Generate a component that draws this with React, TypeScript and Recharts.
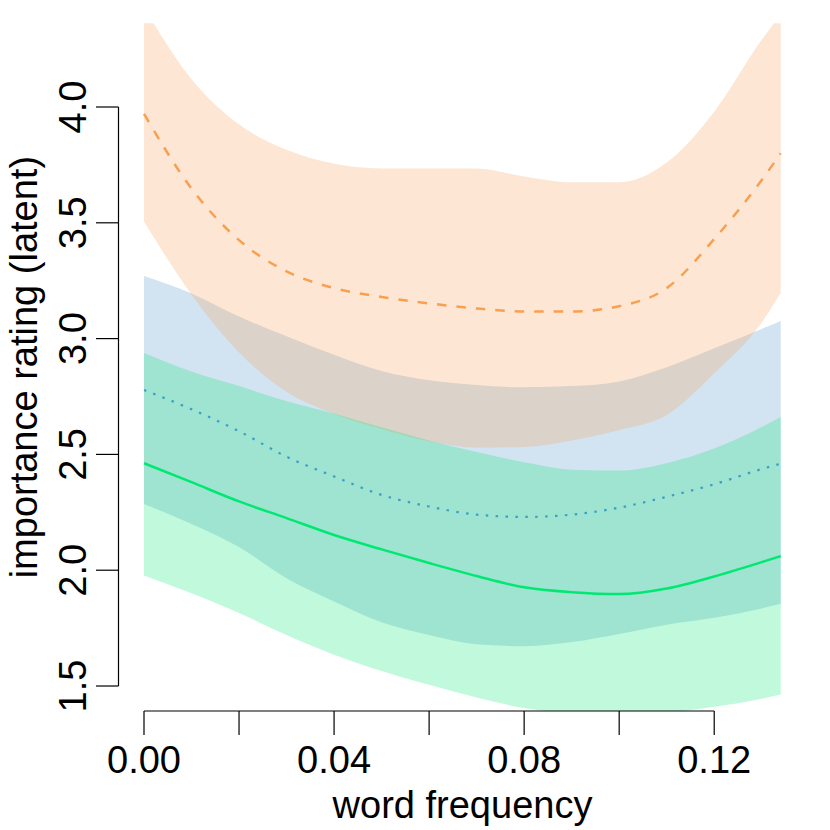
import React from 'react';
import { ComposedChart, Area, Line, XAxis, YAxis, ReferenceLine } from 'recharts';

// word frequency grid
const freq = [0, 0.01, 0.02, 0.03, 0.04, 0.05, 0.06, 0.07, 0.08, 0.09, 0.1, 0.11, 0.12, 0.13, 0.134];

// orange group (dashed)
const orangeMid = [3.97, 3.648, 3.425, 3.29, 3.218, 3.18, 3.152, 3.13, 3.117, 3.117, 3.14, 3.218, 3.43, 3.685, 3.8];
const orangeLo = [3.506, 3.19, 2.94, 2.77, 2.675, 2.61, 2.557, 2.53, 2.532, 2.56, 2.605, 2.67, 2.85, 3.07, 3.197];
const orangeHi = [4.43, 4.12, 3.925, 3.815, 3.755, 3.735, 3.735, 3.735, 3.7, 3.675, 3.675, 3.76, 3.98, 4.29, 4.4];

// blue group (dotted)
const blueMid = [2.778, 2.695, 2.6, 2.49, 2.405, 2.325, 2.275, 2.24, 2.23, 2.24, 2.27, 2.317, 2.371, 2.437, 2.46];
const blueLo = [2.286, 2.2, 2.1, 1.965, 1.865, 1.775, 1.72, 1.68, 1.672, 1.69, 1.725, 1.765, 1.795, 1.835, 1.855];
const blueHi = [3.27, 3.195, 3.095, 3.01, 2.93, 2.86, 2.82, 2.8, 2.79, 2.795, 2.815, 2.876, 2.958, 3.042, 3.076];

// green group (solid)
const greenMid = [2.462, 2.38, 2.297, 2.225, 2.152, 2.09, 2.031, 1.975, 1.926, 1.905, 1.897, 1.921, 1.973, 2.035, 2.061];
const greenLo = [1.977, 1.9, 1.815, 1.72, 1.635, 1.565, 1.505, 1.45, 1.405, 1.38, 1.37, 1.385, 1.41, 1.445, 1.463];
const greenHi = [2.938, 2.858, 2.795, 2.73, 2.677, 2.617, 2.56, 2.51, 2.466, 2.434, 2.43, 2.462, 2.525, 2.618, 2.661];

const xTicks = [0, 0.02, 0.04, 0.06, 0.08, 0.1, 0.12];
const xTickLabels = ['0.00', '', '0.04', '', '0.08', '', '0.12'];
const yTicks = [1.5, 2.0, 2.5, 3.0, 3.5, 4.0];
const yTickLabels = ['1.5', '2.0', '2.5', '3.0', '3.5', '4.0'];

const X_MIN = -0.005366;
const X_MAX = 0.13942;
const Y_MIN = 1.3921;
const Y_MAX = 4.3614;

const FONT = "'Liberation Sans', Arial, Helvetica, sans-serif";

const data = freq.map((x, i) => ({
  x,
  oMid: orangeMid[i], oLo: orangeLo[i], oHi: orangeHi[i],
  bMid: blueMid[i], bLo: blueLo[i], bHi: blueHi[i],
  gMid: greenMid[i], gLo: greenLo[i], gHi: greenHi[i],
}));

function YTick(props: any) {
  const { x, y, index } = props;
  return (
    <text x={x} y={y} transform={`rotate(-90, ${x}, ${y})`} textAnchor="middle"
      fontSize={38} fontFamily={FONT} fill="#000">
      {yTickLabels[index]}
    </text>
  );
}

function XTitle(props: any) {
  const vb = props.viewBox || { x: 118.5, width: 688 };
  return (
    <text x={vb.x + vb.width / 2} y={818} textAnchor="middle" fontSize={38} fontFamily={FONT} fill="#000">
      word frequency
    </text>
  );
}

function YTitle(props: any) {
  const vb = props.viewBox || { y: 23.3, height: 687.7 };
  const cy = vb.y + vb.height / 2;
  return (
    <text x={37.5} y={cy} transform={`rotate(-90, 37.5, ${cy})`} textAnchor="middle"
      fontSize={38} fontFamily={FONT} fill="#000">
      importance rating (latent)
    </text>
  );
}

export default function App() {
  return (
    <div style={{ position: 'absolute', left: 0, top: 0, width: 830, height: 830, background: '#fff' }}>
      <ComposedChart width={830} height={830} data={data}
        margin={{ top: 23.3, right: 23.5, left: 0, bottom: 0 }}>
        <XAxis dataKey="x" type="number" domain={[X_MIN, X_MAX]} allowDataOverflow
          ticks={xTicks} interval={0} height={119} axisLine={false}
          tickSize={24} tickMargin={11} tickLine={{ stroke: '#000', strokeWidth: 1.2 }}
          tick={{ fill: '#000', fontSize: 38, fontFamily: FONT }}
          tickFormatter={(v: number, i: number) => xTickLabels[i]}
          label={<XTitle />} />
        <YAxis type="number" domain={[Y_MIN, Y_MAX]} allowDataOverflow
          ticks={yTicks} interval={0} width={118.5} axisLine={false}
          tickSize={22.5} tickMargin={9.5} tickLine={{ stroke: '#000', strokeWidth: 1.2 }}
          tick={<YTick />} label={<YTitle />} />

        <Area dataKey={(d: any) => [d.bLo, d.bHi]} type="monotone" stroke="none"
          fill="#4B8FC7" fillOpacity={0.25} isAnimationActive={false} activeDot={false} />
        <Area dataKey={(d: any) => [d.oLo, d.oHi]} type="monotone" stroke="none"
          fill="#F79F53" fillOpacity={0.25} isAnimationActive={false} activeDot={false} />
        <Area dataKey={(d: any) => [d.gLo, d.gHi]} type="monotone" stroke="none"
          fill="#03E773" fillOpacity={0.25} isAnimationActive={false} activeDot={false} />

        <Line dataKey="oMid" type="monotone" stroke="#F99F50" strokeWidth={2.5}
          strokeDasharray="9.5 10" dot={false} activeDot={false} isAnimationActive={false} />
        <Line dataKey="bMid" type="monotone" stroke="#3AA0C8" strokeWidth={2.2}
          strokeDasharray="2.5 7.4" dot={false} activeDot={false} isAnimationActive={false} />
        <Line dataKey="gMid" type="monotone" stroke="#00E872" strokeWidth={2.5}
          dot={false} activeDot={false} isAnimationActive={false} />

        <ReferenceLine segment={[{ x: 0, y: Y_MIN }, { x: 0.12, y: Y_MIN }]}
          stroke="#000" strokeWidth={1.2} ifOverflow="visible" />
        <ReferenceLine segment={[{ x: X_MIN, y: 1.5 }, { x: X_MIN, y: 4.0 }]}
          stroke="#000" strokeWidth={1.2} ifOverflow="visible" />
      </ComposedChart>
    </div>
  );
}
